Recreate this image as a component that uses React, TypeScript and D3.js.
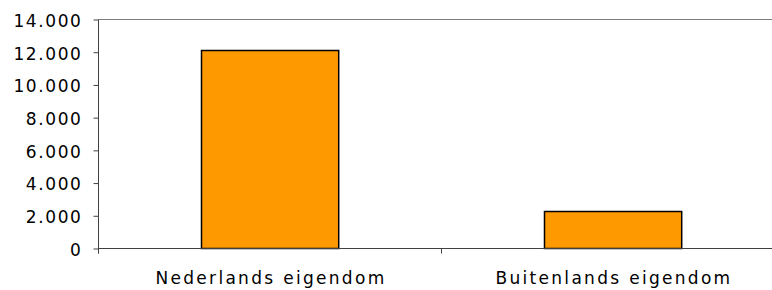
import React, { useRef, useEffect } from 'react';
import * as d3 from 'd3';

const categories = ['Nederlands eigendom', 'Buitenlands eigendom'];
const values = [12150, 2300];
const yTicks = [0, 2000, 4000, 6000, 8000, 10000, 12000, 14000];

const fmt = (d: number) => (d === 0 ? '0' : d3.format(',')(d).replace(/,/g, '.'));

const App = () => {
  const ref = useRef<SVGSVGElement>(null);

  useEffect(() => {
    const svg = d3.select(ref.current);
    svg.selectAll('*').remove();

    const left = 98.5;
    const top = 19.5;
    const bottom = 248.5;
    const right = 784.5;

    const x = d3.scaleBand().domain(categories).range([left, right]).paddingInner(0.6).paddingOuter(0.3);
    const y = d3.scaleLinear().domain([0, 14000]).range([bottom, top]);

    const g = svg.append('g');

    // top border of plot area
    g.append('line')
      .attr('x1', left).attr('x2', right)
      .attr('y1', top).attr('y2', top)
      .attr('stroke', '#808080').attr('stroke-width', 1);

    // bars
    g.selectAll('rect.bar')
      .data(values)
      .enter()
      .append('rect')
      .attr('class', 'bar')
      .attr('x', (d, i) => Math.round(x(categories[i])!) + 0.5)
      .attr('y', (d) => Math.round(y(d)) + 0.5)
      .attr('width', x.bandwidth())
      .attr('height', (d) => bottom - Math.round(y(d)) - 0.5)
      .attr('fill', '#FF9900')
      .attr('stroke', '#000')
      .attr('stroke-width', 1.5);

    // y axis
    const yAxis = d3.axisLeft(y).tickValues(yTicks).tickFormat((d) => fmt(+d)).tickSize(5).tickPadding(11);
    const yg = g.append('g').attr('transform', `translate(${left},0)`).call(yAxis);
    yg.select('.domain').attr('stroke', '#404040').attr('d', `M0,${top}V${bottom + 5}`);
    yg.selectAll('.tick line').attr('stroke', '#404040');
    yg.selectAll('text')
      .attr('font-family', 'DejaVu Sans, Verdana, sans-serif')
      .attr('font-size', 17)
      .attr('letter-spacing', 1.6)
      .attr('dy', '0.4em')
      .attr('fill', '#000');

    // x axis
    const xPos = d3.scalePoint().domain(['a', 'b', 'c']).range([left, right]);
    const xg = g.append('g').attr('transform', `translate(0,${bottom})`);
    xg.append('line')
      .attr('x1', left).attr('x2', right)
      .attr('stroke', '#404040');
    xg.selectAll('line.tk')
      .data(xPos.domain())
      .enter()
      .append('line')
      .attr('class', 'tk')
      .attr('x1', (d) => xPos(d)!).attr('x2', (d) => xPos(d)!)
      .attr('y1', 0).attr('y2', 5)
      .attr('stroke', '#404040');
    xg.selectAll('text')
      .data(categories)
      .enter()
      .append('text')
      .attr('x', (d) => x(d)! + x.bandwidth() / 2 + 1)
      .attr('y', 35.5)
      .attr('text-anchor', 'middle')
      .attr('font-family', 'DejaVu Sans, Verdana, sans-serif')
      .attr('font-size', 17)
      .attr('letter-spacing', 2.3)
      .attr('fill', '#000')
      .text((d) => d);
  }, []);

  return (
    <svg
      ref={ref}
      width={772}
      height={290}
      style={{ position: 'absolute', left: 0, top: 0, background: '#fff' }}
    />
  );
};

export default App;
